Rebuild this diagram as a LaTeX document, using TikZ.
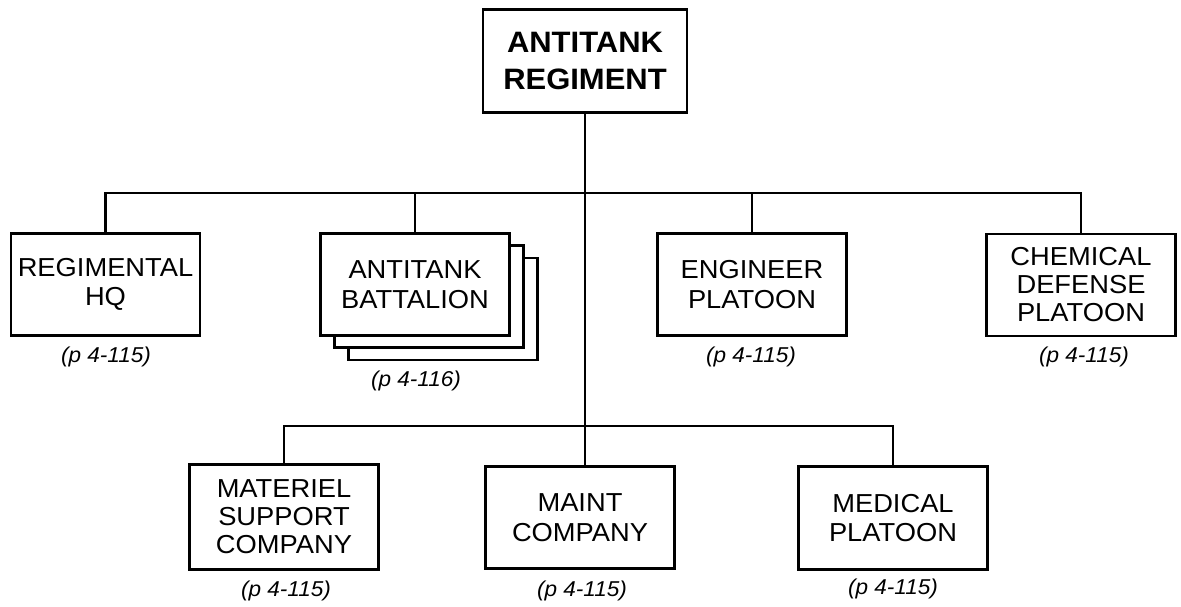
\documentclass[tikz,border=0pt]{standalone}
\usepackage{fontspec}
\setmainfont{Liberation Sans}[FakeStretch=1.05]
\begin{document}
\begin{tikzpicture}[x=1pt,y=-1pt,
  unitbox/.style={draw, line width=2.6pt, fill=white, inner sep=0pt, align=center,
    minimum width=189pt, minimum height=102pt, font=\fontsize{26}{29.5}\selectfont},
  topbox/.style={draw, line width=2.6pt, fill=white, inner sep=0pt, align=center,
    minimum width=204pt, minimum height=103pt, font=\fontsize{29.5}{37}\selectfont\bfseries},
  pageref/.style={inner sep=0pt, font=\fontsize{21.5}{24}\selectfont\itshape},
  link/.style={line width=2.2pt}]
\useasboundingbox (0,0) rectangle (1181,607);
% top
\node[topbox] (top) at (585,61) {ANTITANK\\REGIMENT};
% first row
\node[unitbox] (hq) at (105.5,284.5) {REGIMENTAL\\HQ};
\node[unitbox] (bn3) at (443,309) {};
\node[unitbox] (bn2) at (429,296.5) {};
\node[unitbox] (bn) at (415,284.5) {ANTITANK\\BATTALION};
\node[unitbox] (eng) at (752,284.5) {ENGINEER\\PLATOON};
\node[unitbox, font=\fontsize{26}{28}\selectfont] (chem) at (1081,285) {CHEMICAL\\DEFENSE\\PLATOON};
% second row
\node[unitbox, minimum height=105pt, font=\fontsize{26}{28}\selectfont] (mat) at (284,517) {MATERIEL\\SUPPORT\\COMPANY};
\node[unitbox] (maint) at (580,517.5) {MAINT\\COMPANY};
\node[unitbox, minimum height=103pt] (med) at (893,518) {MEDICAL\\PLATOON};
% page references
\node[pageref] (lhq) at (106,357) {(p 4-115)};
\node[pageref] (lbn) at (416,381) {(p 4-116)};
\node[pageref] (leng) at (751,357) {(p 4-115)};
\node[pageref] (lchem) at (1084,357) {(p 4-115)};
\node[pageref] (lmat) at (286,591) {(p 4-115)};
\node[pageref] (lmaint) at (582,591) {(p 4-115)};
\node[pageref] (lmed) at (893,589) {(p 4-115)};
% buses
\coordinate (ub) at (0,193);
\coordinate (lb) at (0,426);
\draw[link] (top.south) -- (top.south |- maint.north);
\draw[link] (hq.north) |- (chem.north |- ub) -- (chem.north);
\draw[link] (bn.north) -- (bn.north |- ub);
\draw[link] (eng.north) -- (eng.north |- ub);
\draw[link] (mat.north) |- (med.north |- lb) -- (med.north);
\end{tikzpicture}
\end{document}
